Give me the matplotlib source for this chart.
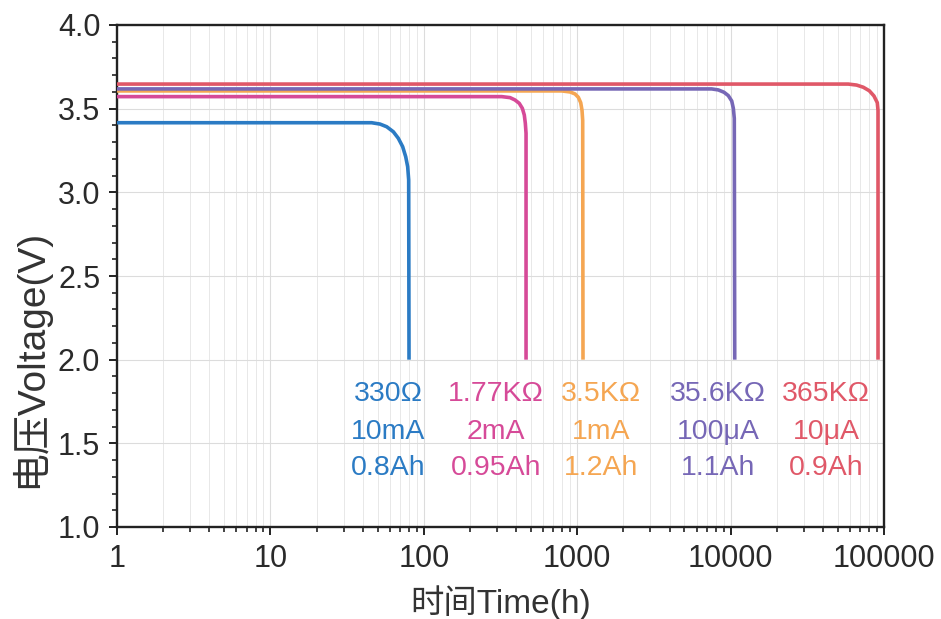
import matplotlib
matplotlib.use("Agg")
import matplotlib.pyplot as plt
from matplotlib.ticker import MultipleLocator, LogLocator, NullFormatter, FixedLocator

plt.rcParams['font.family'] = ['Liberation Sans', 'Noto Sans CJK SC', 'DejaVu Sans']

# ---- data ----
blue_t = [1, 45.7, 51.8, 57.3, 63.3, 68.2, 72.8, 76.2, 78.5, 79.7, 80.1]
blue_v = [3.416, 3.416, 3.408, 3.392, 3.362, 3.323, 3.273, 3.213, 3.153, 3.074, 2.0]

pink_t = [1, 322, 365, 393, 419, 439, 452, 459, 464, 464]
pink_v = [3.572, 3.572, 3.566, 3.552, 3.532, 3.502, 3.462, 3.413, 3.353, 2.0]

orange_t = [1, 792, 898, 968, 1017, 1054, 1075, 1086, 1091]
orange_v = [3.606, 3.606, 3.600, 3.588, 3.568, 3.536, 3.490, 3.430, 2.0]

purple_t = [1, 7530, 8320, 9060, 9660, 10170, 10420, 10570, 10640]
purple_v = [3.618, 3.618, 3.612, 3.598, 3.578, 3.546, 3.502, 3.442, 2.0]

red_t = [1, 58500, 66300, 73300, 80200, 86000, 90400, 91400, 91400]
red_v = [3.647, 3.647, 3.641, 3.628, 3.607, 3.576, 3.536, 3.490, 2.0]

resistances = ["330Ω", "1.77KΩ", "3.5KΩ", "35.6KΩ", "365KΩ"]
currents = ["10mA", "2mA", "1mA", "100μA", "10μA"]
capacities = ["0.8Ah", "0.95Ah", "1.2Ah", "1.1Ah", "0.9Ah"]

colors = ["#2b7bc4", "#d64a98", "#f5a652", "#7667b6", "#e05868"]

x_ticks = [1, 10, 100, 1000, 10000, 100000]
x_tick_labels = ["1", "10", "100", "1000", "10000", "100000"]
y_ticks = [1.0, 1.5, 2.0, 2.5, 3.0, 3.5, 4.0]

# ---- figure ----
fig = plt.figure(figsize=(9.41, 6.19), dpi=100)
ax = fig.add_axes([117/941, (619-527)/619, (884-117)/941, (527-25)/619])

series = [(blue_t, blue_v), (pink_t, pink_v), (orange_t, orange_v),
          (purple_t, purple_v), (red_t, red_v)]
for (t, v), c in zip(series, colors):
    ax.plot(t, v, color=c, lw=2.6, solid_joinstyle='round', solid_capstyle='butt', zorder=3)

ax.set_xscale('log')
ax.set_xlim(1, 100000)
ax.set_ylim(1.0, 4.0)
ax.set_xticks(x_ticks)
ax.set_xticklabels(x_tick_labels)
ax.xaxis.set_minor_locator(LogLocator(base=10, subs=range(2, 10), numticks=20))
ax.xaxis.set_minor_formatter(NullFormatter())
ax.set_yticks(y_ticks)
ax.set_yticklabels([f"{y:.1f}" for y in y_ticks])
ax.yaxis.set_minor_locator(MultipleLocator(0.1))

ax.grid(True, which='major', axis='both', color='#dcdcdc', lw=0.8, zorder=0)
ax.grid(True, which='minor', axis='x', color='#e8e8e8', lw=0.7, zorder=0)

for s in ax.spines.values():
    s.set_linewidth(1.7)
    s.set_color('#222222')

ax.tick_params(which='major', direction='out', length=6, width=1.4, labelsize=22,
               colors='#222222', pad=6)
ax.tick_params(which='minor', direction='out', length=3.5, width=1.2, colors='#222222')
ax.tick_params(axis='both', which='major', labelcolor='#2a2a2a')

ax.set_xlabel("时间Time(h)", fontsize=24, color='#333333', labelpad=8)
ax.set_ylabel("电压Voltage(V)", fontsize=28, color='#333333')
ax.yaxis.set_label_coords(-0.088, 0.335)

# annotation columns
col_x = [388, 496, 601, 718, 826]
row_y = [394, 432, 468]
for i, c in enumerate(colors):
    for j, txt in enumerate([resistances[i], currents[i], capacities[i]]):
        fx = col_x[i] / 941
        fy = 1 - row_y[j] / 619
        fig.text(fx, fy, txt, color=c, fontsize=20.5, ha='center', va='center')

fig.savefig("out.png", dpi=100, facecolor='white')
